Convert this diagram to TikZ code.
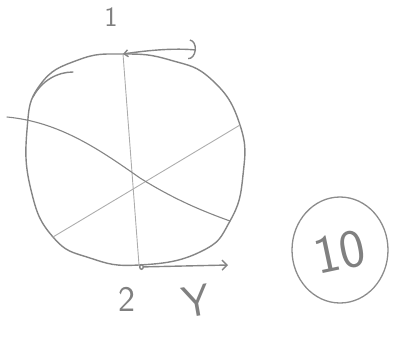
\documentclass[tikz,border=0pt]{standalone}
\usepackage{tikz}
\usetikzlibrary{arrows.meta,positioning,calc,shapes.geometric}

\begin{document}
\begin{tikzpicture}[x=1pt,y=-1pt,
  pen/.style={draw=black!48,line width=1.4pt,line cap=round,line join=round},
  faint/.style={draw=black!32,line width=0.9pt,line cap=round},
  hand/.style={text=black!50,font=\sffamily,inner sep=0pt}]
  \useasboundingbox (0,0) rectangle (398,338);

  % Points on the rim
  \coordinate (top) at (123,54);
  \coordinate (bot) at (139,265);
  \coordinate (ne) at (240,125);
  \coordinate (se) at (230,221);
  \coordinate (sw) at (53,237);
  \coordinate (far) at (7,117);

  % The rough circle
  \draw[pen] plot[smooth cycle,tension=0.8] coordinates {
    (top) (170,60) (212,80) (ne) (243,175) (se) (200,252)
    (bot) (90,258) (sw) (31,190) (27,130) (40,85) (78,60)};
  \draw[pen] (33,97) .. controls (42,80) and (58,72) .. (73,72);

  % Chords
  \draw[faint] (top) -- (bot);
  \draw[faint] (sw) -- (ne);
  \draw[pen,line width=1.1pt] (far) .. controls (60,122) and (100,150) .. (140,178)
    .. controls (175,200) and (205,212) .. (se);

  % Arrows along the rim
  \draw[pen,{Straight Barb[length=4pt,width=7pt]}-{Arc Barb[length=7pt,width=20pt]}]
    (top) .. controls (150,50) and (175,48) .. (196,50);
  \draw[pen,{Circle[open,length=5pt,width=6pt]}-{Straight Barb[length=5pt,width=10pt]}]
    (bot) ++(0,2) -- (228,265);

  % Labels
  \node[hand,font=\sffamily\fontsize{28}{30}\selectfont] (one) at (111,17) {1};
  \node[hand,font=\sffamily\fontsize{36}{38}\selectfont] (two) at (127,299) {2};
  \node[hand,font=\sffamily\fontsize{44}{46}\selectfont,rotate=10] (why) at (196,301) {Y};

  % Circled number
  \draw[black!45,line width=1.3pt] (340,250) ellipse[x radius=48pt,y radius=53pt];
  \node[hand,font=\sffamily\fontsize{54}{56}\selectfont,rotate=12] (ten) at (340,252) {10};
\end{tikzpicture}
\end{document}
